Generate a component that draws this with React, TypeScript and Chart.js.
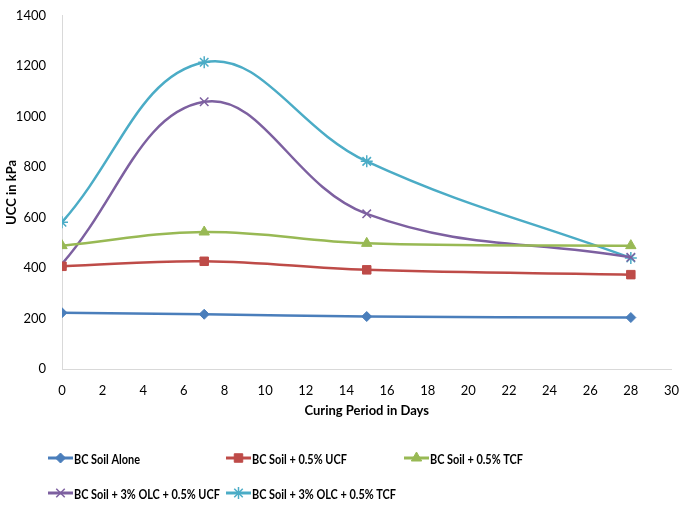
import React, { useEffect, useRef } from "react";
import { Chart, registerables } from "chart.js";
import { drawPoint } from "chart.js/helpers";

Chart.register(...registerables);

const days = [0, 7, 15, 28];
const bcAlone = [223, 217, 208, 204];
const ucf = [407, 427, 393, 374];
const tcf = [489, 543, 498, 489];
const olcUcf = [417, 1059, 615, 443];
const olcTcf = [582, 1216, 823, 440];
const labels = [
  "BC Soil Alone",
  "BC Soil + 0.5% UCF",
  "BC Soil + 0.5% TCF",
  "BC Soil + 3% OLC + 0.5% UCF",
  "BC Soil + 3% OLC + 0.5% TCF",
];
const colors = ["#4a7ebb", "#be4b48", "#98b954", "#7d60a0", "#4bacc6"];
const markers = ["rectRot", "rect", "triangle", "crossRot", "star"];
const markerSizes = [5, 6, 6, 6, 6];
const seriesValues = [bcAlone, ucf, tcf, olcUcf, olcTcf];

const FONT = "Lato, 'Open Sans', sans-serif";

const legendPlugin = {
  id: "gridLegend",
  afterDraw(chart: any) {
    const ctx = chart.ctx;
    const cols = [48, 226, 404];
    const rows = [458, 493];
    ctx.save();
    chart.data.datasets.forEach((ds: any, i: number) => {
      const x = cols[i % 3];
      const y = rows[Math.floor(i / 3)];
      ctx.strokeStyle = ds.borderColor;
      ctx.lineWidth = 3;
      ctx.beginPath();
      ctx.moveTo(x, y);
      ctx.lineTo(x + 25, y);
      ctx.stroke();
      ctx.fillStyle = ds.pointBackgroundColor;
      ctx.strokeStyle = ds.pointBorderColor;
      ctx.lineWidth = ds.pointBorderWidth;
      drawPoint(
        ctx,
        { pointStyle: ds.pointStyle, radius: ds.pointRadius, borderWidth: ds.pointBorderWidth, rotation: 0 },
        x + 12.5,
        y
      );
      ctx.fillStyle = "#000";
      ctx.font = `bold 14px ${FONT}`;
      ctx.textBaseline = "middle";
      ctx.textAlign = "left";
      const w = ctx.measureText(ds.label).width;
      ctx.fillText(ds.label, x + 26, y + 1, w * 0.78);
    });
    ctx.restore();
  },
};

export default function App() {
  const ref = useRef<HTMLCanvasElement>(null);
  useEffect(() => {
    const chart = new Chart(ref.current!, {
      type: "line",
      data: {
        datasets: seriesValues.map((vals, i) => ({
          label: labels[i],
          data: days.map((d, j) => ({ x: d, y: vals[j] })),
          borderColor: colors[i],
          backgroundColor: colors[i],
          pointBackgroundColor: colors[i],
          pointBorderColor: colors[i],
          pointBorderWidth: i >= 3 ? 1.5 : 1,
          pointStyle: markers[i],
          pointRadius: markerSizes[i],
          borderWidth: 2.5,
          tension: 0.4,
          fill: false,
        })),
      },
      options: {
        animation: false,
        responsive: false,
        layout: { padding: { top: 9, right: 12, bottom: 88, left: 4 } },
        plugins: { legend: { display: false }, tooltip: { enabled: false } },
        scales: {
          x: {
            type: "linear",
            min: 0,
            max: 30,
            ticks: {
              stepSize: 2,
              color: "#000",
              font: { family: FONT, size: 13 },
              padding: 6,
              callback: (v: any) => String(v),
            },
            grid: { display: false },
            border: { color: "#d9d9d9", width: 1 },
            title: {
              display: true,
              text: "Curing Period in Days",
              color: "#000",
              font: { family: FONT, size: 13, weight: "bold" },
              padding: { top: 6, bottom: 0 },
            },
            afterFit: (s: any) => {
              s.height = 50;
            },
          },
          y: {
            min: 0,
            max: 1400,
            ticks: {
              stepSize: 200,
              color: "#000",
              font: { family: FONT, size: 13 },
              padding: 8,
              callback: (v: any) => String(v),
            },
            grid: { display: false },
            border: { color: "#d9d9d9", width: 1 },
            title: {
              display: true,
              text: "UCC in kPa",
              color: "#000",
              font: { family: FONT, size: 13, weight: "bold" },
              padding: { top: 0, bottom: 4 },
            },
            afterFit: (s: any) => {
              s.width = 58;
            },
          },
        },
      },
      plugins: [legendPlugin],
    } as any);
    return () => chart.destroy();
  }, []);
  return (
    <div style={{ position: "absolute", left: 0, top: 0, width: 685, height: 507, background: "#fff" }}>
      <canvas ref={ref} width={685} height={507} />
    </div>
  );
}
